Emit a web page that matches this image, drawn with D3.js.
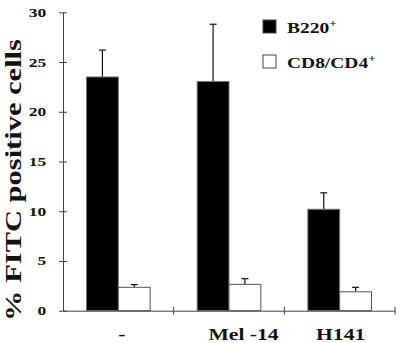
<!DOCTYPE html>
<html lang="en">
<head>
    <meta charset="UTF-8">
    <title>% FITC positive cells</title>
    <script src="https://d3js.org/d3.v7.min.js"></script>
    <style>
        body, html {
            margin: 0;
            padding: 0;
            background: #fff;
            overflow: hidden;
        }
        svg {
            display: block;
            font-family: "Liberation Serif", "DejaVu Serif", serif;
            font-weight: bold;
        }
    </style>
</head>
<body>
    <svg width="400" height="343"></svg>
    <script>
        // Data
        const groups = ["-", "Mel -14", "H141"];
        const seriesNames = ["B220", "CD8/CD4"];
        const b220 = [23.5, 23.05, 10.2];
        const b220Err = [2.7, 5.75, 1.65];
        const cd8cd4 = [2.35, 2.65, 1.9];
        const cd8cd4Err = [0.27, 0.57, 0.45];
        const yTicks = [0, 5, 10, 15, 20, 25, 30];

        const width = 400, height = 343;
        const svg = d3.select("svg");

        const x0 = 63, x1 = 395, y0 = 310.7, y1 = 12.3;
        const stretch = 1.35; // the scanned figure's lettering is wide

        const xScale = d3.scaleBand().domain(groups).range([x0, x1]).paddingInner(0).paddingOuter(0);
        const inner = d3.scaleBand().domain(seriesNames).range([23.5, xScale.bandwidth() - 23.5]).padding(0);
        const yScale = d3.scaleLinear().domain([0, 30]).range([y0, y1]);

        const series = [
            { name: "B220", values: b220, err: b220Err, fill: "#000", stroke: "#777" },
            { name: "CD8/CD4", values: cd8cd4, err: cd8cd4Err, fill: "#fff", stroke: "#555" }
        ];

        // bars
        series.forEach(s => {
            const g = svg.append("g");
            const rows = groups.map((grp, i) => ({ grp, v: s.values[i], e: s.err[i] }));
            const cx = d => xScale(d.grp) + inner(s.name) + inner.bandwidth() / 2;

            // error bars (upper only)
            g.selectAll("line.err")
                .data(rows)
                .enter().append("line")
                .attr("x1", cx)
                .attr("x2", cx)
                .attr("y1", d => yScale(d.v))
                .attr("y2", d => yScale(d.v + d.e))
                .attr("stroke", "#111")
                .attr("stroke-width", 1.2);
            g.selectAll("line.cap")
                .data(rows)
                .enter().append("line")
                .attr("x1", d => cx(d) - 3.5)
                .attr("x2", d => cx(d) + 3.5)
                .attr("y1", d => yScale(d.v + d.e))
                .attr("y2", d => yScale(d.v + d.e))
                .attr("stroke", "#111")
                .attr("stroke-width", 1.2);

            g.selectAll("rect")
                .data(rows)
                .enter().append("rect")
                .attr("x", d => xScale(d.grp) + inner(s.name))
                .attr("y", d => yScale(d.v))
                .attr("width", inner.bandwidth())
                .attr("height", d => yScale(0) - yScale(d.v))
                .attr("fill", s.fill)
                .attr("stroke", s.stroke)
                .attr("stroke-width", 1);
        });

        // y axis
        const yAxis = d3.axisLeft(yScale).tickValues(yTicks).tickSizeInner(4).tickSizeOuter(0).tickPadding(8);
        const gy = svg.append("g").attr("transform", `translate(${x0},0)`).call(yAxis);
        gy.select(".domain").attr("stroke", "#444");
        gy.selectAll(".tick line").attr("x2", 4).attr("x1", -4).attr("stroke", "#444");
        gy.selectAll(".tick text")
            .attr("font-family", "Liberation Serif, serif")
            .attr("font-weight", "bold")
            .attr("font-size", 12.5)
            .attr("fill", "#111")
            .attr("transform", `scale(${stretch + 0.05},1)`);

        // x axis
        const xAxis = d3.axisBottom(xScale).tickSize(0).tickFormat("");
        const gx = svg.append("g").attr("transform", `translate(0,${y0})`).call(xAxis);
        gx.select(".domain").attr("stroke", "#444");
        gx.selectAll(".tick").remove();
        // group separators
        gx.selectAll("line.sep")
            .data(groups)
            .enter().append("line")
            .attr("x1", d => xScale(d) + xScale.bandwidth())
            .attr("x2", d => xScale(d) + xScale.bandwidth())
            .attr("y1", -4)
            .attr("y2", 4)
            .attr("stroke", "#444");

        const labelNudge = [3.5, 14.5, 1];
        svg.append("g").selectAll("text")
            .data(groups)
            .enter().append("text")
            .attr("transform", (d, i) => `translate(${xScale(d) + xScale.bandwidth() / 2 + labelNudge[i]},340) scale(${stretch},1)`)
            .attr("text-anchor", "middle")
            .attr("font-size", 16)
            .attr("fill", "#111")
            .text(d => d);

        // y title
        svg.append("text")
            .attr("transform", "translate(21,180) rotate(-90) scale(1.27,1)")
            .attr("text-anchor", "middle")
            .attr("font-size", 24)
            .attr("fill", "#111")
            .text("% FITC positive cells");

        // legend
        const legend = svg.append("g").selectAll("g")
            .data(series)
            .enter().append("g")
            .attr("transform", (d, i) => `translate(263,${20 + i * 35})`);
        legend.append("rect")
            .attr("width", 13)
            .attr("height", 13)
            .attr("fill", d => d.fill)
            .attr("stroke", "#444");
        const lt = legend.append("text")
            .attr("transform", `translate(24,13) scale(1.3,1)`)
            .attr("font-size", 15)
            .attr("fill", "#111");
        lt.append("tspan").text(d => d.name);
        lt.append("tspan").attr("dy", -6).attr("font-size", 10).text("+");
    </script>
</body>
</html>
